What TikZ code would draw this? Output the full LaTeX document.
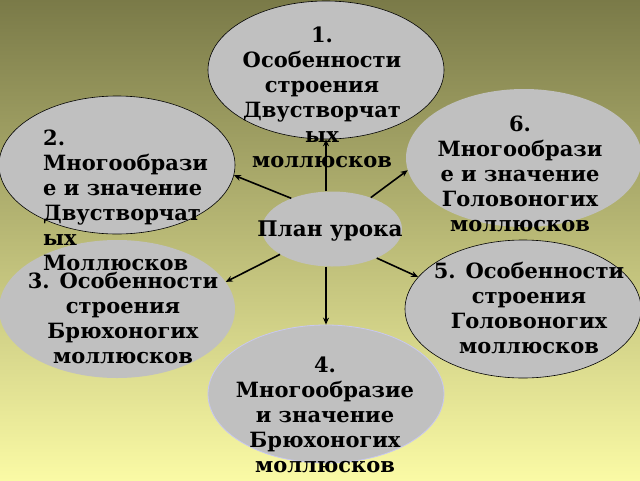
\documentclass[tikz,border=0pt]{standalone}
\usepackage{fontspec}
\setmainfont{DejaVu Serif}
\usetikzlibrary{arrows.meta,shapes.geometric}
\definecolor{bgtop}{RGB}{122,122,72}
\definecolor{bgmid}{RGB}{192,192,105}
\definecolor{bgbot}{RGB}{250,250,165}
\definecolor{fillg}{RGB}{192,192,192}
\definecolor{lav}{RGB}{200,200,240}
\tikzset{
  oval/.style={ellipse, fill=fillg, inner sep=0pt, minimum width=236pt, minimum height=138pt},
  txt/.style={font=\fontsize{21}{25}\selectfont\bfseries, inner sep=0pt, align=center},
  arr/.style={line width=1.6pt, -{Stealth[length=7pt,width=6pt]}}
}
\begin{document}
\begin{tikzpicture}[x=1pt,y=-1pt]
\shade[top color=bgtop, middle color=bgmid, bottom color=bgbot] (0,0) rectangle (640,480);
\useasboundingbox (0,0) rectangle (640,480);
\node[oval, draw=black, line width=0.6pt] (e1) at (326,70) {};
\node[oval, draw=black, line width=0.6pt] (e2) at (117,165) {};
\node[oval] (e6) at (524,158) {};
\node[oval] (e3) at (117,309) {};
\node[oval, draw=black, line width=0.6pt] (e5) at (523,309) {};
\node[oval, draw=lav, line width=0.8pt] (e4) at (326,394) {};
\node[ellipse, fill=fillg, inner sep=0pt, minimum width=140pt, minimum height=75pt] (c) at (332,229) {};
\node[txt] (t1) at (322,97) {1.\\Особенности\\строения\\Двустворчат\\ых\\моллюсков};
\node[txt, align=left, anchor=west] (t2) at (43,200) {2.\\Многообрази\\е и значение\\Двустворчат\\ых\\Моллюсков};
\node[txt] (t6) at (520,174) {6.\\Многообрази\\е и значение\\Головоногих\\моллюсков};
\node[txt] (t3) at (123,318) {3. Особенности\\строения\\Брюхоногих\\моллюсков};
\node[txt] (t5) at (529,308) {5. Особенности\\строения\\Головоногих\\моллюсков};
\node[txt] (t4) at (325,415) {4.\\Многообразие\\ и значение\\Брюхоногих\\моллюсков};
\node[txt, font=\fontsize{21.5}{25}\selectfont\bfseries] (tc) at (330,231) {План урока};
\draw[arr] (c.north -| e1.south) -- (e1.south);
\draw[arr] (c.143) -- (e2.-5);
\draw[arr] (c.39) -- (e6.186);
\draw[arr] (c.206) -- (e3.14);
\draw[arr] (c.south -| e4.north) -- (e4.north);
\draw[arr] (c.-33) -- (e5.163);
\end{tikzpicture}
\end{document}
